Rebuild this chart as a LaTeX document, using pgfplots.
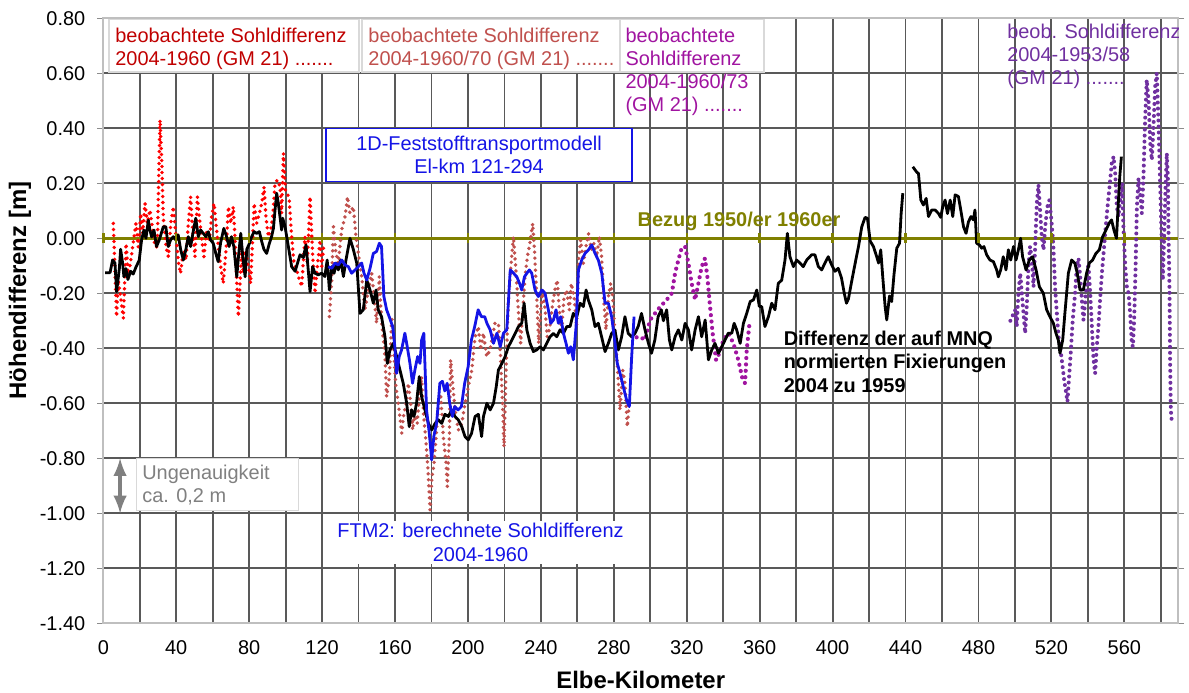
\documentclass[border=0pt]{standalone}
\usepackage{pgfplots}
\pgfplotsset{compat=1.18}
\usepackage{fontspec}
\setmainfont{Liberation Sans}
\definecolor{txtred}{RGB}{192,0,0}
\definecolor{obsred}{RGB}{255,0,0}
\definecolor{brownred}{RGB}{192,80,77}
\definecolor{magthree}{RGB}{160,20,160}
\definecolor{purpfour}{RGB}{112,48,160}
\definecolor{ftmblue}{RGB}{20,20,230}
\definecolor{olivebez}{RGB}{128,128,0}
\definecolor{graytxt}{RGB}{128,128,128}
\begin{document}
\begin{tikzpicture}
\useasboundingbox (-51.65bp,-34.85bp) rectangle (542.85bp,311.65bp);
\begin{axis}[
  at={(0,0)}, anchor=south west,
  width=537.4bp, height=302.5bp, scale only axis,
  xmin=0, xmax=589.5, ymin=-1.4, ymax=0.8,
  xtick={0,40,...,560}, minor xtick={20,60,...,580},
  ytick={-1.4,-1.2,-1,-0.8,-0.6,-0.4,-0.2,0,0.2,0.4,0.6,0.8},
  grid=both,
  major grid style={black!65, line width=0.9bp},
  minor grid style={black!65, line width=0.9bp},
  axis line style={black!25, line width=1bp},
  tick align=outside,
  xtick style={draw=none},
  ytick style={black!45, line width=0.8bp},
  major tick length=3bp, minor tick length=0pt,
  /pgf/number format/assume math mode=true,
  yticklabel style={/pgf/number format/fixed, /pgf/number format/fixed zerofill, /pgf/number format/precision=2, xshift=-2.5bp},
  xticklabel style={yshift=-2bp},
  ticklabel style={font=\fontsize{10}{12}\selectfont},
  xlabel={Elbe-Kilometer}, ylabel={Höhendifferenz [m]},
  label style={font=\fontsize{12}{14}\selectfont\bfseries},
  xlabel style={at={(axis description cs:0.5,0)}, anchor=center, yshift=-28.5bp},
  ylabel style={at={(axis description cs:-0.0775,0.55)}, anchor=center},
]
% reference line
\addplot[olivebez, line width=1.6bp] coordinates {(0,0) (589.5,0)};
\addplot[olivebez, only marks, mark=|, mark size=2.5bp, mark options={line width=1.2bp}] coordinates {(0,0) (40,0) (80,0) (120,0) (160,0) (200,0) (240,0) (280,0) (320,0) (360,0) (400,0) (440,0) (480,0) (520,0) (560,0)};
% observed 2004-1960 (red dotted)
\addplot[obsred, line width=1.9bp, line cap=round, dash pattern=on 0pt off 3bp] coordinates {
(5.5,0.054) (7.3,-0.285) (8.2,-0.152) (9.5,-0.213) (11,-0.291) (12.5,-0.019) (13.7,-0.14) (15.6,-0.055) (17.9,0.054) (19.2,-0.031) (20.5,0.09) (21.6,0.018) (22.9,0.127) (24.2,0.054) (25.6,0.103) (27.1,0.03) (28.4,-0.031) (29.6,-0.031) (31.1,0.43) (32,0.297) (32.9,0.078) (34.4,-0.031) (35.7,-0.067) (37,0.054) (38.4,0.115) (39.9,0.006) (41.3,-0.091) (42.4,-0.128) (43.9,-0.043) (45.4,-0.079) (46.6,0.054) (47.9,0.151) (49,0.03) (50.3,-0.067) (51.6,0.151) (52.7,0.078) (54,-0.006) (55.2,-0.067) (56.7,0.03) (58.2,-0.006) (59.4,0.078) (60.7,0.127) (61.8,0.054) (63.1,-0.031) (64.4,-0.103) (65.8,-0.164) (67.3,-0.043) (68.6,0.115) (69.9,0.054) (71.3,0.115) (72.2,0.006) (73.2,-0.164) (74.1,-0.285) (75,-0.164) (75.9,-0.031) (76.8,-0.128) (77.7,-0.043) (78.6,-0.067) (79.9,-0.116) (80.8,-0.164) (81.9,-0.006) (82.7,0.127) (84.1,0.054) (85.6,0.09) (86.9,0.127) (88.2,0.187) (89.2,0.078) (90.5,0.006) (91.8,0.03) (92.9,0.078) (94.2,0.2) (95.5,0.212) (97,0.187) (97.8,0.09) (98.8,0.309) (99.9,0.175) (101,0.163) (102,0.139) (103.3,0.006) (104.6,-0.09) (106.1,-0.116) (107,-0.139) (108.8,-0.176) (110.6,0.006) (111.9,-0.091) (113.4,0.151) (114.8,-0.055) (116.1,-0.2) (117.4,-0.103) (118.9,-0.006) (119.8,-0.103) (121,-0.02)};
% observed 2004-1960/70 (brown dotted)
\addplot[brownred, line width=1.9bp, line cap=round, dash pattern=on 0pt off 3bp] coordinates {
(124,-0.285) (125.3,-0.152) (126.2,0.042) (127.6,-0.055) (128.9,-0.091) (130.7,0.03) (132.6,0.079) (133.9,0.151) (135.3,0.091) (137.1,0.115) (138.6,0.006) (139.9,-0.055) (141.7,-0.139) (143.5,-0.26) (145.4,-0.188) (147.2,-0.127) (148.5,-0.212) (149.9,-0.309) (151.4,-0.139) (152.7,-0.309) (154.5,-0.43) (155.4,-0.576) (156.9,-0.503) (158.2,-0.285) (159.4,-0.418) (160.5,-0.54) (161.8,-0.6) (163.7,-0.709) (164.6,-0.648) (166,-0.6) (167.3,-0.527) (168.6,-0.6) (169.7,-0.697) (171,-0.624) (172.2,-0.673) (173.3,-0.576) (174.6,-0.503) (175.5,-0.624) (177,-0.745) (178.1,-0.842) (179.2,-0.988) (180.3,-0.867) (181.4,-0.818) (182.5,-0.721) (183.6,-0.624) (185.1,-0.576) (186.5,-0.721) (188,-0.818) (188.7,-0.903) (189.8,-0.721) (190.5,-0.442) (191.6,-0.527) (192.9,-0.624) (194.7,-0.697) (196.6,-0.673) (198.4,-0.6) (200.2,-0.54) (202.1,-0.479) (203.9,-0.358) (205.7,-0.321) (207,-0.406) (208.5,-0.345) (210.3,-0.43) (212.1,-0.406) (214.8,-0.309) (216.7,-0.309) (217.9,-0.43) (219,-0.6) (219.8,-0.758) (220.9,-0.479) (222.1,-0.236) (223.4,-0.115) (224.9,0.006) (226.3,-0.115) (227.6,-0.26) (228.9,-0.382) (230,-0.273) (231.3,-0.139) (232.6,-0.067) (234,-0.018) (235.5,0.054) (236.6,-0.055) (237.7,-0.212) (238.8,-0.382) (239.9,-0.26) (241,-0.188) (242.3,-0.26) (243.5,-0.358) (245,-0.321) (246.5,-0.236) (247.7,-0.188) (249,-0.152) (250.1,-0.26) (251.4,-0.333) (252.7,-0.212) (254.1,-0.188) (255.6,-0.26) (256.7,-0.164) (258.2,-0.212) (259.6,-0.321) (260.7,-0.079) (261.8,-0.006) (263.3,-0.091) (264.7,-0.03) (266.2,0.018) (267.7,-0.042) (269.1,-0.018) (270.6,-0.067) (272.1,0.006) (273.3,-0.067) (274.6,-0.236) (275.7,-0.333) (277,-0.212) (278.3,-0.164) (279.4,-0.212) (280.7,-0.358) (281.9,-0.455) (283.4,-0.624) (284.9,-0.479) (286.1,-0.527) (287.4,-0.685) (288.5,-0.6)};
% observed 2004-1960/73 (magenta dotted)
\addplot[magthree, line width=2.1bp, line cap=round, dash pattern=on 0pt off 3.2bp] coordinates {
(292.5,-0.36) (294.4,-0.358) (297.1,-0.37) (299.9,-0.297) (302.6,-0.273) (305.4,-0.249) (309,-0.224) (311.8,-0.2) (313.6,-0.127) (315.4,-0.079) (317.2,-0.036) (319.1,-0.03) (320.9,-0.09) (322.7,-0.164) (324.6,-0.224) (326.4,-0.164) (328.2,-0.103) (330,-0.073) (331.3,-0.14) (332.8,-0.249) (334.2,-0.345) (336.1,-0.443) (337.9,-0.418) (340.1,-0.37) (342.8,-0.345) (345.6,-0.382) (348.3,-0.443) (350.7,-0.515) (352,-0.527) (352.9,-0.406) (354.4,-0.31)};
% observed 2004-1953/58 (purple dotted)
\addplot[purpfour, line width=2bp, line cap=round, dash pattern=on 0pt off 3bp] coordinates {
(497.5,-0.3) (500.1,-0.261) (501,-0.321) (501.9,-0.2) (502.9,-0.127) (503.8,-0.2) (504.7,-0.273) (505.6,-0.345) (506.5,-0.248) (507.4,-0.103) (508.3,-0.03) (509.3,-0.079) (510.2,-0.176) (511.1,-0.03) (512,0.127) (512.9,0.194) (513.8,0.103) (514.7,0.006) (515.7,-0.042) (516.6,0.042) (517.8,0.115) (518.9,0.139) (520,0.067) (521.1,-0.03) (522,-0.176) (523,-0.273) (523.9,-0.357) (524.8,-0.394) (525.7,-0.442) (527,-0.515) (528.1,-0.564) (528.8,-0.594) (529.6,-0.515) (530.6,-0.418) (531.7,-0.297) (533,-0.2) (533.9,-0.103) (534.9,-0.073) (535.8,-0.139) (536.7,-0.224) (537.6,-0.297) (538.5,-0.236) (539.4,-0.152) (540.3,-0.091) (541.3,-0.2) (542.2,-0.321) (543.1,-0.442) (544,-0.491) (544.9,-0.394) (545.8,-0.321) (546.7,-0.224) (547.7,-0.127) (548.6,-0.055) (549.5,0.018) (550.8,0.115) (551.9,0.188) (553.1,0.273) (554.1,0.297) (555,0.236) (555.9,0.115) (556.8,0.079) (557.7,0.139) (558.8,0.2) (559.5,0.042) (560.5,-0.103) (561.4,-0.176) (562.3,-0.2) (563.2,-0.273) (564.1,-0.382) (564.7,-0.394) (565.4,-0.297) (566.1,-0.127) (566.9,0.115) (567.8,0.218) (568.7,0.164) (569.6,0.091) (570.5,0.224) (571.4,0.43) (572.3,0.576) (573.3,0.503) (574.2,0.345) (575.1,0.285) (576,0.406) (576.9,0.552) (577.8,0.6) (578.7,0.43) (579.7,0.188) (580.6,-0.03) (581.1,-0.152) (581.8,-0.006) (582.6,0.188) (583.3,0.309) (583.9,0.224) (584.2,0.042) (584.8,-0.2) (585.1,-0.442) (585.5,-0.624) (586.1,-0.673)};
% measured difference 2004 vs 1959 (black)
\addplot[black, line width=1.4bp, line join=round] coordinates {
(1,-0.125) (3.7,-0.125) (5.1,-0.079) (6.4,-0.09) (7.3,-0.194) (8.8,-0.11) (9.5,-0.04) (10.6,-0.09) (11.3,-0.14) (12.4,-0.11) (13.5,-0.15) (15,-0.12) (16.4,-0.13) (17.9,-0.105) (19.7,-0.08) (21,-0.006) (22.3,0.03) (23.4,0.0) (24.7,0.066) (25.6,0.03) (26.5,0.005) (27.8,0.03) (29.2,-0.03) (30.7,-0.006) (32.9,0.042) (34.3,0.042) (35.6,-0.03) (36.9,-0.006) (38.4,0.006) (39.8,-0.006) (41.1,0.012) (42.4,-0.04) (43.9,-0.079) (45.3,-0.04) (46.6,0.006) (47.9,-0.03) (49.3,0.024) (50.7,0.073) (52.1,0.006) (53.4,0.03) (54.8,0.018) (56.3,0.006) (57.6,0.024) (58.8,-0.006) (60.3,-0.018) (61.7,-0.055) (63,-0.085) (64.3,-0.018) (66.1,0.036) (67.6,0.006) (69,-0.03) (70.3,0.006) (71.6,-0.03) (73.2,-0.14) (74.3,-0.055) (75.4,0.018) (76.5,-0.067) (77.8,-0.14) (78.7,-0.04) (80.2,-0.018) (81.4,0.006) (82.7,0.024) (84.1,0.018) (85.6,0.024) (86.9,-0.012) (88.1,-0.04) (89.6,-0.055) (91.1,-0.018) (92.3,0.006) (93.3,0.036) (94.2,0.103) (95.1,0.164) (96,0.127) (96.9,0.079) (97.8,0.03) (98.4,0.073) (99.7,0.042) (101.5,-0.03) (103.3,-0.103) (105.2,-0.12) (107.9,-0.06) (109.7,-0.07) (111.2,-0.024) (112.4,-0.115) (113.4,-0.194) (114.8,-0.103) (116.1,-0.127) (117.9,-0.133) (119.7,-0.127) (121.5,-0.139) (122.8,-0.079) (124,-0.188) (125.3,-0.103) (126.6,-0.127) (127.7,-0.09) (128.9,-0.115) (130.2,-0.079) (131.7,-0.139) (133.1,-0.079) (135.3,0.0) (137.2,-0.042) (139,-0.09) (140.8,-0.273) (142.6,-0.26) (144.5,-0.152) (146.3,-0.188) (148.1,-0.236) (149.6,-0.188) (150.8,-0.26) (152.6,-0.285) (154.5,-0.358) (155.8,-0.455) (157.2,-0.406) (159.1,-0.382) (160.9,-0.43) (162.7,-0.479) (164.5,-0.527) (166.4,-0.6) (167.8,-0.685) (169.1,-0.624) (170.4,-0.648) (171.8,-0.6) (173.3,-0.503) (174.6,-0.576) (176.4,-0.624) (178.3,-0.673) (180.1,-0.697) (182,-0.673) (183.8,-0.66) (185.6,-0.673) (187.4,-0.64) (189.3,-0.648) (191.1,-0.624) (192.9,-0.648) (194.7,-0.66) (196.6,-0.685) (198.4,-0.721) (200.2,-0.733) (202,-0.709) (203.9,-0.648) (205.7,-0.64) (207.5,-0.721) (208.5,-0.648) (210.4,-0.6) (212.2,-0.624) (214,-0.6) (215.5,-0.54) (216.7,-0.479) (218.6,-0.455) (220.4,-0.43) (222.2,-0.394) (224.1,-0.37) (225.9,-0.346) (227.7,-0.321) (229.5,-0.309) (230.8,-0.236) (232.3,-0.333) (234.1,-0.382) (235.9,-0.412) (237.7,-0.406) (239.6,-0.394) (241.4,-0.406) (243.2,-0.382) (245,-0.358) (246.9,-0.346) (248.7,-0.358) (250.5,-0.333) (252.4,-0.346) (254.2,-0.321) (256,-0.321) (257.8,-0.273) (259.7,-0.285) (261.5,-0.236) (263.3,-0.248) (264.8,-0.188) (266,-0.224) (267.9,-0.26) (269.7,-0.321) (271.5,-0.309) (273.3,-0.358) (275.2,-0.412) (277,-0.382) (278.8,-0.346) (280.6,-0.333) (282.5,-0.406) (284.3,-0.358) (286.1,-0.285) (287.9,-0.346) (289.8,-0.358) (291.6,-0.346) (293.4,-0.32) (295.2,-0.273) (297,-0.33) (298.9,-0.38) (300.7,-0.418) (302.5,-0.37) (304.3,-0.285) (306.1,-0.26) (307.2,-0.3) (309,-0.26) (310.5,-0.37) (311.8,-0.406) (313.6,-0.358) (315.4,-0.333) (317.3,-0.37) (319.1,-0.309) (320.9,-0.333) (322.7,-0.406) (324.6,-0.333) (326.4,-0.285) (328.2,-0.358) (330.1,-0.297) (331.9,-0.442) (333.7,-0.406) (335.5,-0.382) (337.4,-0.418) (339.2,-0.394) (341,-0.37) (342.8,-0.345) (344.7,-0.345) (346,-0.309) (347.4,-0.333) (349.3,-0.382) (351.1,-0.309) (352.9,-0.273) (354.8,-0.23) (356.6,-0.224) (358.4,-0.188) (359.8,-0.248) (361.1,-0.248) (362.9,-0.321) (364.8,-0.285) (366.6,-0.236) (368.4,-0.26) (370.2,-0.164) (372.1,-0.152) (373.9,-0.079) (375.2,0.018) (376.6,-0.067) (378.5,-0.103) (380.3,-0.079) (382.1,-0.09) (383.9,-0.103) (385.8,-0.079) (388.5,-0.06) (390.3,-0.06) (392.2,-0.103) (394,-0.115) (395.8,-0.09) (397.6,-0.067) (399.5,-0.097) (401.3,-0.12) (403.1,-0.109) (404.9,-0.145) (406.4,-0.2) (407.6,-0.236) (408.7,-0.22) (410.5,-0.155) (412.4,-0.09) (414.2,-0.03) (416,0.042) (417.8,0.076) (419.1,0.073) (420.6,-0.01) (422.4,-0.03) (424.2,-0.067) (425.2,-0.09) (426.4,-0.042) (427.5,-0.14) (428.8,-0.248) (429.7,-0.297) (431.2,-0.21) (432.4,-0.23) (433.7,-0.13) (435.2,-0.036) (436.7,-0.018) (437.6,0.091) (438.5,0.164)};
\addplot[black, line width=1.4bp, line join=round] coordinates {
(444,0.26) (446.2,0.24) (447.1,0.236) (448.4,0.139) (449.8,0.121) (451.3,0.145) (452.6,0.079) (454.4,0.103) (456.2,0.103) (458.1,0.09) (459.3,0.076) (460.4,0.115) (461.7,0.139) (463,0.09) (464.5,0.139) (465.9,0.079) (467.2,0.158) (469,0.152) (470.3,0.103) (471.8,0.042) (473.2,0.018) (474.5,0.06) (475.9,0.079) (477.2,0.067) (478.1,0.103) (479,-0.018) (480.5,-0.024) (481.8,-0.036) (483,-0.03) (484.5,-0.06) (486.3,-0.079) (488.2,-0.085) (490,-0.115) (490.9,-0.14) (492.2,-0.115) (493.6,-0.067) (495.1,-0.115) (496.4,-0.042) (497.7,-0.079) (499.2,-0.03) (500.6,-0.079) (501.9,-0.042) (503.1,0.0) (504.2,-0.067) (506.1,-0.115) (507.9,-0.079) (509.7,-0.067) (511.6,-0.115) (513.4,-0.176) (515.6,-0.2) (517.4,-0.26) (519.2,-0.285) (521.1,-0.309) (522.5,-0.345) (523.8,-0.37) (524.7,-0.418) (526.2,-0.37) (527.4,-0.273) (529.3,-0.127) (531.1,-0.079) (532.9,-0.091) (534.2,-0.127) (535.7,-0.188) (537.5,-0.188) (539.3,-0.127) (540.8,-0.09) (542.6,-0.079) (544.4,-0.055) (546.3,-0.042) (548.1,0.006) (549.9,0.03) (551.7,0.055) (553,0.067) (554.3,0.03) (555.7,0.0) (556.6,0.115) (557.5,0.224) (558.4,0.297)};
% FTM2 computed (blue)
\addplot[ftmblue, line width=1.4bp, line join=round] coordinates {
(123.4,-0.103) (125.3,-0.109) (127.1,-0.09) (128.9,-0.097) (130.8,-0.079) (132.6,-0.097) (134.4,-0.103) (136.2,-0.127) (138.1,-0.115) (139.9,-0.103) (141.7,-0.09) (143,-0.127) (144.5,-0.152) (146.3,-0.109) (148.1,-0.055) (149.9,-0.048) (151.4,-0.018) (152.6,-0.03) (153.9,-0.212) (155.4,-0.26) (156.8,-0.285) (158.7,-0.321) (159.9,-0.394) (160.9,-0.491) (162.3,-0.43) (163.6,-0.406) (165.4,-0.345) (166.7,-0.394) (168.2,-0.455) (169.6,-0.527) (170.9,-0.479) (172.4,-0.43) (173.7,-0.455) (174.6,-0.37) (175.8,-0.345) (177.3,-0.624) (178.8,-0.709) (180.1,-0.806) (181.3,-0.72) (182.8,-0.673) (184.6,-0.527) (186,-0.52) (187.3,-0.555) (188.6,-0.527) (190,-0.6) (191.5,-0.648) (192.8,-0.612) (194.6,-0.624) (196.4,-0.612) (198.2,-0.527) (200.1,-0.467) (201.9,-0.37) (203.7,-0.321) (205.6,-0.26) (207.4,-0.285) (209.2,-0.285) (210.4,-0.309) (212.2,-0.333) (214,-0.382) (215.9,-0.345) (217.7,-0.394) (219.5,-0.345) (221.3,-0.333) (223.2,-0.115) (225,-0.127) (226.8,-0.14) (228.3,-0.164) (229.5,-0.188) (231,-0.14) (232.3,-0.127) (233.7,-0.115) (235,-0.127) (236.8,-0.188) (238.6,-0.212) (240.5,-0.188) (242.3,-0.2) (244.1,-0.26) (245.4,-0.309) (246.9,-0.297) (248.3,-0.26) (249.6,-0.309) (250.9,-0.285) (252.4,-0.346) (253.8,-0.382) (255.1,-0.418) (256.4,-0.394) (257.8,-0.442) (259.3,-0.321) (260.6,-0.115) (262.4,-0.079) (264.2,-0.055) (266.1,-0.042) (267.9,-0.024) (269.7,-0.055) (271.5,-0.079) (273.4,-0.127) (275.2,-0.236) (277,-0.236) (278.8,-0.285) (280.7,-0.382) (281.9,-0.455) (283.4,-0.49) (285.2,-0.54) (287,-0.588) (288.5,-0.612) (289.8,-0.43) (291.1,-0.285)};
% annotations
\draw[fill=white, draw=black!15, line width=0.6bp] (axis cs:3.1,0.795) rectangle (axis cs:140.2,0.605);
\node[anchor=west, align=left, inner sep=0pt, text=txtred, font=\fontsize{10}{11.65}\selectfont] at (axis cs:6.4,0.69) {beobachtete Sohldifferenz\\2004-1960 (GM 21) .......};
\draw[fill=white, draw=black!15, line width=0.6bp] (axis cs:141.9,0.795) rectangle (axis cs:283.4,0.605);
\node[anchor=west, align=left, inner sep=0pt, text=brownred, font=\fontsize{10}{11.65}\selectfont] at (axis cs:145.2,0.69) {beobachtete Sohldifferenz\\2004-1960/70 (GM 21) .......};
\draw[fill=white, draw=black!15, line width=0.6bp] (axis cs:283.4,0.795) rectangle (axis cs:362.4,0.605);
\node[anchor=west, align=left, inner sep=0pt, text=magthree, font=\fontsize{10}{11.65}\selectfont] at (axis cs:286.2,0.605) {beobachtete\\Sohldifferenz\\2004-1960/73\\(GM 21) .......};
\node[anchor=west, align=left, inner sep=0pt, text=purpfour, font=\fontsize{10}{11.65}\selectfont] at (axis cs:495.6,0.661) {beob. Sohldifferenz\\2004-1953/58\\(GM 21) .......};
\node[draw=ftmblue, line width=0.8bp, fill=white, text=ftmblue, align=center, minimum width=153bp, minimum height=26.5bp, inner sep=1bp, font=\fontsize{10}{11.65}\selectfont] at (axis cs:206.1,0.303) {1D-Feststofftransportmodell\\El-km 121-294};
\node[fill=white, text=ftmblue, align=center, inner sep=1.5bp, font=\fontsize{10}{11.65}\selectfont] at (axis cs:206.9,-1.106) {FTM2: berechnete Sohldifferenz\\2004-1960};
\draw[fill=white, draw=black!15, line width=0.6bp] (axis cs:18.3,-0.8) rectangle (axis cs:107,-0.99);
\node[anchor=west, align=left, inner sep=0pt, text=graytxt, font=\fontsize{10}{11.65}\selectfont] at (axis cs:21.2,-0.897) {Ungenauigkeit\\ca. 0,2 m};
\draw[graytxt, line width=2bp, -latex] (axis cs:9.2,-0.9) -- (axis cs:9.2,-0.8);
\draw[graytxt, line width=2bp, -latex] (axis cs:9.2,-0.9) -- (axis cs:9.2,-1.0);
\node[anchor=west, align=left, inner sep=0pt, text=black, font=\fontsize{10}{11.65}\selectfont\bfseries] at (axis cs:373,-0.449) {Differenz der auf MNQ\\normierten Fixierungen\\2004 zu 1959};
\node[inner sep=0pt, text=olivebez, font=\fontsize{10}{12}\selectfont\bfseries] at (axis cs:348.7,0.06) {Bezug 1950/er 1960er};
\end{axis}
\end{tikzpicture}
\end{document}
